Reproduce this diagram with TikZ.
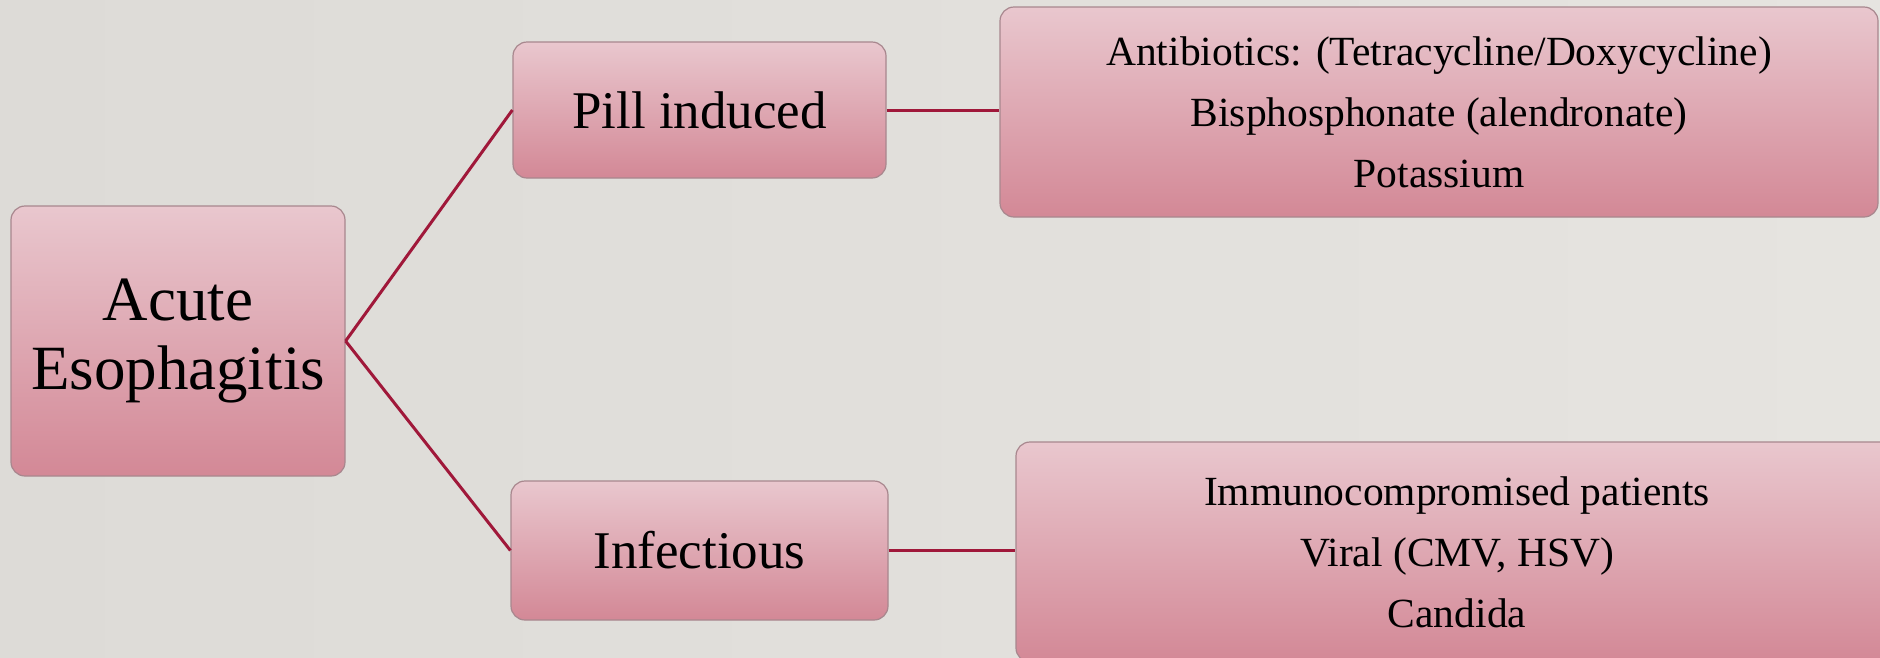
\documentclass[tikz,border=0pt]{standalone}
\usepackage{fontspec}
\setmainfont{Liberation Serif}
\begin{document}
\begin{tikzpicture}[x=1pt,y=-1pt,
  box/.style={draw=boxedge, line width=1.2pt, rounded corners=14pt,
    top color=boxtop, bottom color=boxbot, inner sep=0pt, align=center,
    text=black},
  conn/.style={draw=linecol, line width=3pt}]
\definecolor{bgl}{HTML}{DDDBD7}
\definecolor{bgr}{HTML}{E6E4E0}
\definecolor{boxtop}{HTML}{E9C7CE}
\definecolor{boxbot}{HTML}{D38896}
\definecolor{boxedge}{HTML}{A8878E}
\definecolor{linecol}{HTML}{A0183A}
\useasboundingbox (0,0) rectangle (1880,657);
\shade[left color=bgl, right color=bgr] (0,0) rectangle (1880,657);
\node[box, minimum width=334pt, minimum height=270pt,
  font=\fontsize{63}{69}\selectfont] (acute) at (178,341) {Acute\\Esophagitis};
\node[box, minimum width=373pt, minimum height=136pt,
  font=\fontsize{53}{60}\selectfont] (pill) at (699.5,110) {Pill induced};
\node[box, minimum width=377pt, minimum height=139pt,
  font=\fontsize{53}{60}\selectfont] (inf) at (699.5,550.5) {Infectious};
\node[box, minimum width=878pt, minimum height=210pt,
  font=\fontsize{41.5}{61}\selectfont] (tr) at (1439,112)
  {Antibiotics: (Tetracycline/Doxycycline)\\Bisphosphonate (alendronate)\\Potassium};
\node[box, minimum width=882pt, minimum height=220pt,
  font=\fontsize{41.5}{61}\selectfont] (br) at (1457,552)
  {Immunocompromised patients\\Viral (CMV, HSV)\\Candida};
\draw[conn] (acute.east) -- (pill.west);
\draw[conn] (acute.east) -- (inf.west);
\draw[conn] (pill.east) -- (pill.east -| tr.west);
\draw[conn] (inf.east) -- (inf.east -| br.west);
\end{tikzpicture}
\end{document}
